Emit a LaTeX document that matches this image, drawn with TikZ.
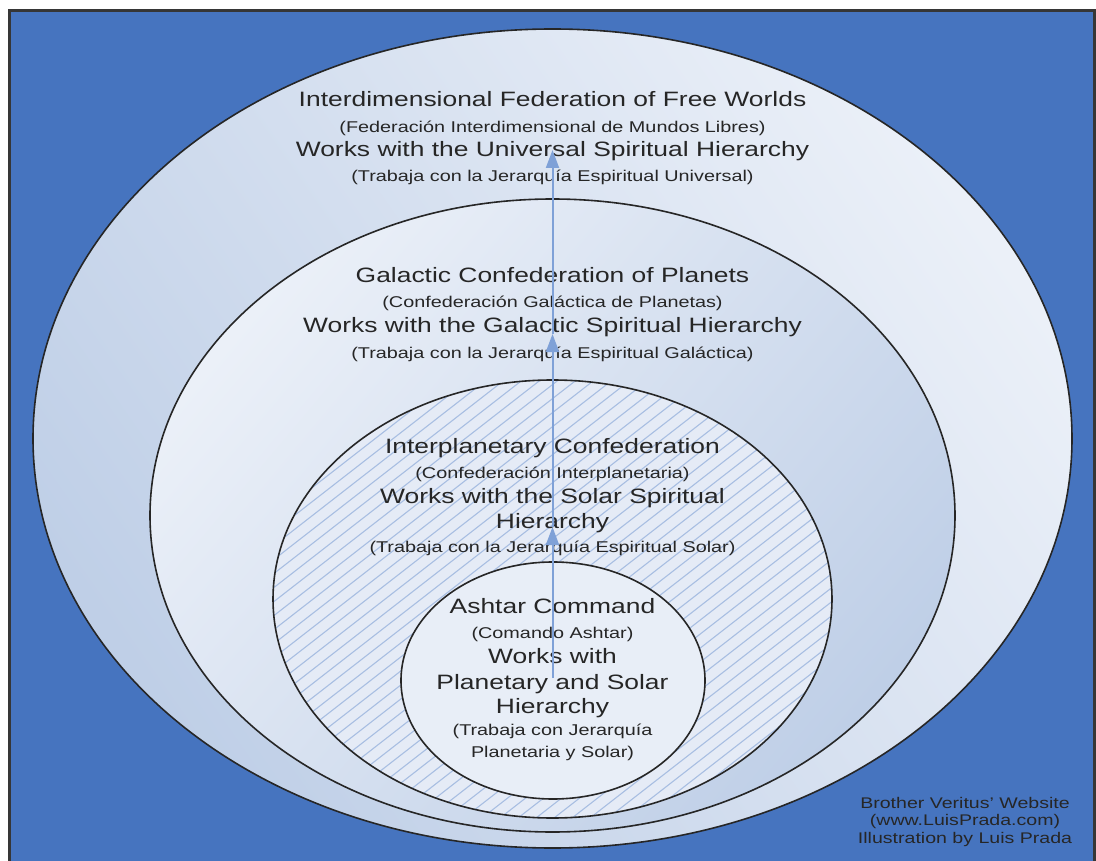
\documentclass[tikz,border=0pt]{standalone}
\usepackage{fontspec}
\setmainfont{Liberation Sans}
\usetikzlibrary{arrows.meta}
\definecolor{bgblue}{HTML}{4674BF}
\definecolor{framegray}{HTML}{363636}
\definecolor{lightA}{HTML}{EBF0F8}
\definecolor{darkA}{HTML}{BFCFE7}
\definecolor{hatchbg}{HTML}{E5EBF6}
\definecolor{hatchline}{HTML}{A8BEE2}
\definecolor{arrowblue}{HTML}{7FA1D7}
\definecolor{txt}{HTML}{262626}
\definecolor{innerfill}{HTML}{E8EEF7}
\begin{document}
\begin{tikzpicture}[x=1pt,y=-1pt,
  ring/.style={draw=black!85, line width=1.6pt},
  big/.style={anchor=base, text=txt, font=\fontsize{20.8}{24}\selectfont, xscale=1.27, inner sep=0pt},
  small/.style={anchor=base, text=txt, font=\fontsize{15.6}{18}\selectfont, xscale=1.27, inner sep=0pt},
  foot/.style={anchor=base, text=txt, font=\fontsize{15.4}{18}\selectfont, xscale=1.27, inner sep=0pt},
  link/.style={draw=arrowblue, line width=2pt, -{Triangle[width=13pt,length=18pt]}},
]
\useasboundingbox (0,0) rectangle (1096,861);
\fill[white] (0,0) rectangle (1096,861);
\draw[fill=bgblue, draw=framegray, line width=3pt] (9,11) rectangle (1094,880);

% outer ellipse
\path[ring, top color=lightA, bottom color=darkA, shading angle=-55]
  (552.5,438.5) ellipse [x radius=519.5, y radius=409.5];
% galactic ellipse
\path[ring, top color=lightA, bottom color=darkA, shading angle=50]
  (552.5,515.5) ellipse [x radius=402.5, y radius=316.5];
% interplanetary ellipse (hatched)
\begin{scope}
  \clip (552.5,599) ellipse [x radius=279.5, y radius=219];
  \fill[hatchbg] (273,380) rectangle (832,818);
  \foreach \k in {0,...,58} {
    \draw[hatchline, line width=1.1pt] ({273-565+\k*18},818) -- ++(565,-440);
  }
\end{scope}
\path[ring] (552.5,599) ellipse [x radius=279.5, y radius=219];
% ashtar ellipse
\path[ring, fill=innerfill] (553,680.5) ellipse [x radius=152, y radius=118.5];

% texts - outer
\node[big]   (o1) at (552.5,107) {Interdimensional Federation of Free Worlds};
\node[small] (o2) at (552.5,133) {(Federación Interdimensional de Mundos Libres)};
\node[big]   (o3) at (552.5,157) {Works with the Universal Spiritual Hierarchy};
\node[small] (o4) at (552.5,182) {(Trabaja con la Jerarquía Espiritual Universal)};
% galactic
\node[big]   (g1) at (552.5,283) {Galactic Confederation of Planets};
\node[small] (g2) at (552.5,308) {(Confederación Galáctica de Planetas)};
\node[big]   (g3) at (552.5,333) {Works with the Galactic Spiritual Hierarchy};
\node[small] (g4) at (552.5,359) {(Trabaja con la Jerarquía Espiritual Galáctica)};
% interplanetary
\node[big]   (p1) at (552.5,453) {Interplanetary Confederation};
\node[small] (p2) at (552.5,478) {(Confederación Interplanetaria)};
\node[big]   (p3) at (552.5,503) {Works with the Solar Spiritual};
\node[big]   (p4) at (552.5,528) {Hierarchy};
\node[small] (p5) at (552.5,552) {(Trabaja con la Jerarquía Espiritual Solar)};
% ashtar
\node[big]   (s1) at (552.5,613) {Ashtar Command};
\node[small] (s2) at (552.5,638) {(Comando Ashtar)};
\node[big]   (s3) at (552.5,663) {Works with};
\node[big]   (s4) at (552.5,689) {Planetary and Solar};
\node[big]   (s5) at (552.5,713) {Hierarchy};
\node[small] (s6) at (552.5,735) {(Trabaja con Jerarquía};
\node[small] (s7) at (552.5,757) {Planetaria y Solar)};
% footer
\node[foot] (f1) at (965,808) {Brother Veritus' Website};
\node[foot] (f2) at (965,825) {(www.LuisPrada.com)};
\node[foot] (f3) at (965,843) {Illustration by Luis Prada};

% arrows
\coordinate (c0) at (552.5,678);
\coordinate (c1) at (552.5,527);
\coordinate (c2) at (552.5,334);
\coordinate (c3) at (552.5,150);
\draw[link] (c0) -- (c1);
\draw[link] (c1) -- (c2);
\draw[link] (c2) -- (c3);
\end{tikzpicture}
\end{document}
